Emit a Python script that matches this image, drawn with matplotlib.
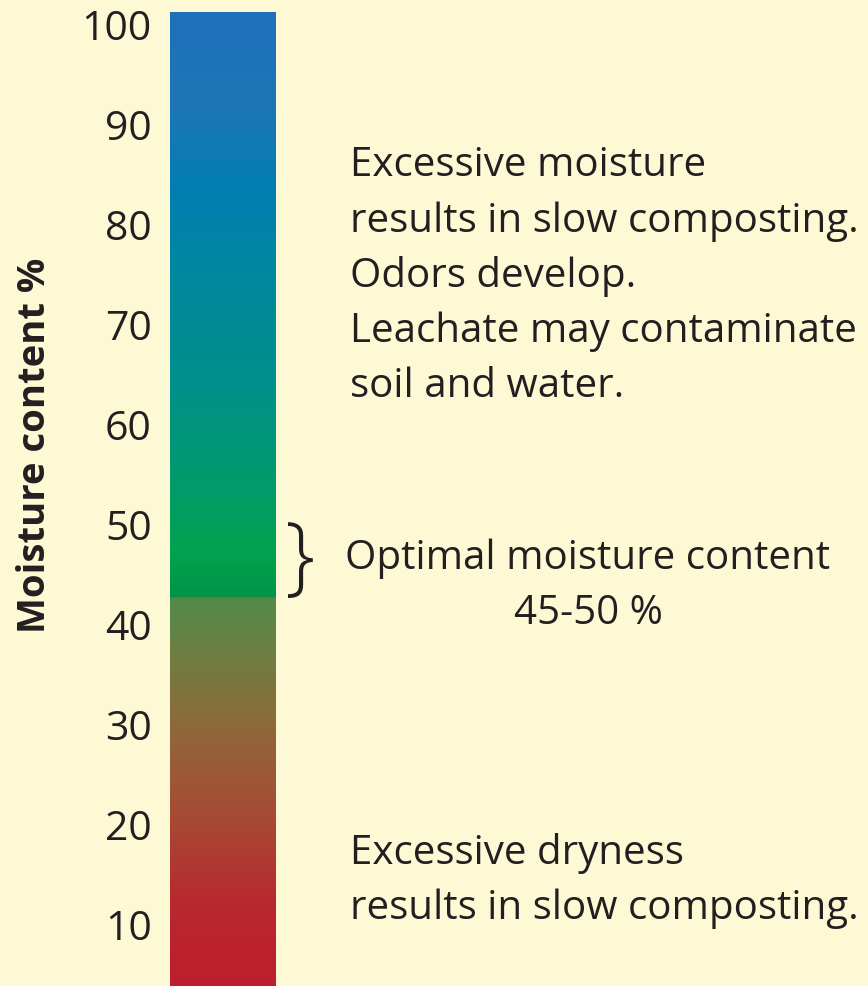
import numpy as np
import matplotlib
matplotlib.use("Agg")
import matplotlib.pyplot as plt
from matplotlib.colors import LinearSegmentedColormap

# gradient colour stops along the bar (moisture %, colour)
stop_values = [3.9, 12, 20, 26, 32, 38, 42.7, 42.8, 47, 55, 65, 75, 83, 92, 101.3]
stop_colors = ["#BE1E2D", "#B8282F", "#A84833", "#9A5C38", "#86703C", "#6A8044",
               "#528A48", "#009448", "#00A24E", "#009A6E", "#008F8E", "#00889E",
               "#007FB0", "#1D76B6", "#1F70BA"]
ticks = [10, 20, 30, 40, 50, 60, 70, 80, 90, 100]
wet_lines = ["Excessive moisture", "results in slow composting.", "Odors develop.",
             "Leachate may contaminate", "soil and water."]
dry_lines = ["Excessive dryness", "results in slow composting."]
optimal_label = "Optimal moisture content"
optimal_range = "45-50 %"
ylabel = "Moisture content %"

W, H = 868, 986
bg = "#FEF9D5"
plt.rcParams['font.family'] = ['Open Sans', 'DejaVu Sans']

fig = plt.figure(figsize=(W / 100, H / 100), dpi=100, facecolor=bg)

vmin, vmax = stop_values[0], stop_values[-1]
pos = [(v - vmin) / (vmax - vmin) for v in stop_values]
cmap = LinearSegmentedColormap.from_list("moist", list(zip(pos, stop_colors)), N=1024)

ax = fig.add_axes([170 / W, 0, 106 / W, (H - 12) / H])
ax.set_facecolor(bg)
grad = np.linspace(vmin, vmax, 2000).reshape(-1, 1)
ax.imshow(grad, cmap=cmap, aspect="auto", origin="lower",
          extent=[0, 1, vmin, vmax], vmin=vmin, vmax=vmax)
ax.set_ylim(vmin, vmax)
ax.set_xlim(0, 1)
ax.set_xticks([])
ax.set_yticks(ticks)
ax.set_yticklabels([str(t) for t in ticks], fontsize=29.5, color="#231F20")
ax.tick_params(axis="y", length=0, pad=13)
for s in ax.spines.values():
    s.set_visible(False)

def fy(py):
    return 1 - py / H

tcol = "#231F20"
fs = 29
for i, line in enumerate(wet_lines):
    fig.text(350 / W, fy(166 + 55.3 * i), line, fontsize=fs, color=tcol, va="center", ha="left")
for i, line in enumerate(dry_lines):
    fig.text(350 / W, fy(853 + 56 * i), line, fontsize=fs, color=tcol, va="center", ha="left")
fig.text(345 / W, fy(559), optimal_label, fontsize=fs, color=tcol, va="center", ha="left")
fig.text(588 / W, fy(614), optimal_range, fontsize=fs, color=tcol, va="center", ha="center")
fig.text(300 / W, fy(561), "}", fontsize=62, fontweight="light", color=tcol, va="center", ha="center")

fig.text(35 / W, fy(445), ylabel, fontsize=27.5, fontweight="bold", color=tcol,
         rotation=90, va="center", ha="center")

fig.savefig("out.png", dpi=100, facecolor=bg)
